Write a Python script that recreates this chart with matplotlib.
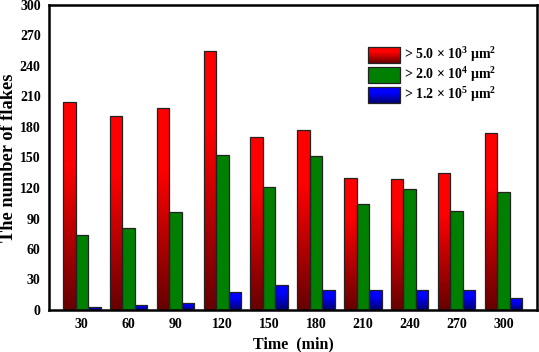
import matplotlib
matplotlib.use("Agg")
import matplotlib.pyplot as plt
import matplotlib.patches as mpatches
from matplotlib.colors import LinearSegmentedColormap
import numpy as np

plt.rcParams["font.family"] = ["Liberation Serif", "DejaVu Serif"]
plt.rcParams["font.weight"] = "bold"
plt.rcParams["axes.labelweight"] = "bold"
plt.rcParams["mathtext.fontset"] = "custom"
plt.rcParams["mathtext.rm"] = "Liberation Serif:bold"
plt.rcParams["mathtext.it"] = "Liberation Serif:bold"
plt.rcParams["mathtext.bf"] = "Liberation Serif:bold"

# data
times = [30, 60, 90, 120, 150, 180, 210, 240, 270, 300]
count_5e3 = [205, 191, 199, 255, 170, 177, 130, 129, 135, 174]
count_2e4 = [74, 81, 96, 152, 121, 151, 104, 119, 97, 116]
count_1e5 = [3, 5, 7, 18, 25, 20, 20, 20, 20, 12]
series_labels = [
    r"> 5.0 × 10$^{3}$ μm$^{2}$",
    r"> 2.0 × 10$^{4}$ μm$^{2}$",
    r"> 1.2 × 10$^{5}$ μm$^{2}$",
]
y_ticks = [0, 30, 60, 90, 120, 150, 180, 210, 240, 270, 300]

# gradient colormaps: value 0 = bottom of bar, 1 = top
CMAP_RED = LinearSegmentedColormap.from_list(
    "red", [(0, "#660000"), (0.55, "#e00000"), (0.7, "#ff0000"), (1, "#ff0000")])
CMAP_GREEN = LinearSegmentedColormap.from_list(
    "green", [(0, "#008000"), (1, "#008000")])
CMAP_BLUE = LinearSegmentedColormap.from_list(
    "blue", [(0, "#000070"), (0.5, "#0000e0"), (0.65, "#0000ff"), (1, "#0000ff")])

GRAD = np.linspace(0, 1, 256).reshape(-1, 1)


def gradient_fill(ax, patch, cmap):
    x0, y0 = patch.get_x(), patch.get_y()
    w, h = patch.get_width(), patch.get_height()
    if h <= 0:
        return
    im = ax.imshow(GRAD, cmap=cmap, origin="lower", aspect="auto",
                   extent=[x0, x0 + w, y0, y0 + h], zorder=2,
                   interpolation="bicubic")
    im.set_clip_path(patch)


fig = plt.figure(figsize=(5.39, 3.52), dpi=100)
ax = fig.add_axes([49 / 539, 42 / 352, 488 / 539, 305 / 352])

x = np.array(times, dtype=float)
width = 8.0
series = [count_5e3, count_2e4, count_1e5]
cmaps = [CMAP_RED, CMAP_GREEN, CMAP_BLUE]
for i, (vals, cmap) in enumerate(zip(series, cmaps)):
    bars = ax.bar(x + (i - 1) * width, vals, width, facecolor="none",
                  edgecolor="#222222", linewidth=0.9, zorder=3)
    for b in bars:
        gradient_fill(ax, b, cmap)

ax.set_xticks(times)
ax.set_yticks(y_ticks)
ax.tick_params(length=0, labelsize=10, pad=6)
for s in ax.spines.values():
    s.set_linewidth(1.8)
ax.set_xlabel("Time  (min)", fontsize=11.5, labelpad=4)
ax.set_ylabel("The number of flakes", fontsize=13.2)
ax.yaxis.set_label_coords(-0.066, 0.5)

# legend drawn by hand so that the handles carry the gradients
for i, (lab, cmap) in enumerate(zip(series_labels, cmaps)):
    yc = 0.837 - i * 0.066
    rect = mpatches.Rectangle((0.653, yc - 0.026), 0.066, 0.052,
                              transform=ax.transAxes, facecolor="none",
                              edgecolor="#222222", linewidth=0.9, zorder=5)
    ax.add_patch(rect)
    ax.imshow(GRAD, cmap=cmap, origin="lower", aspect="auto",
              extent=[0.653, 0.719, yc - 0.026, yc + 0.026],
              transform=ax.transAxes, zorder=4)
    ax.text(0.727, yc, lab, transform=ax.transAxes, fontsize=10,
            va="center", ha="left")

ax.set_xlim(9, 321.5)
ax.set_ylim(0, 300)
fig.savefig("out.png", dpi=100)
